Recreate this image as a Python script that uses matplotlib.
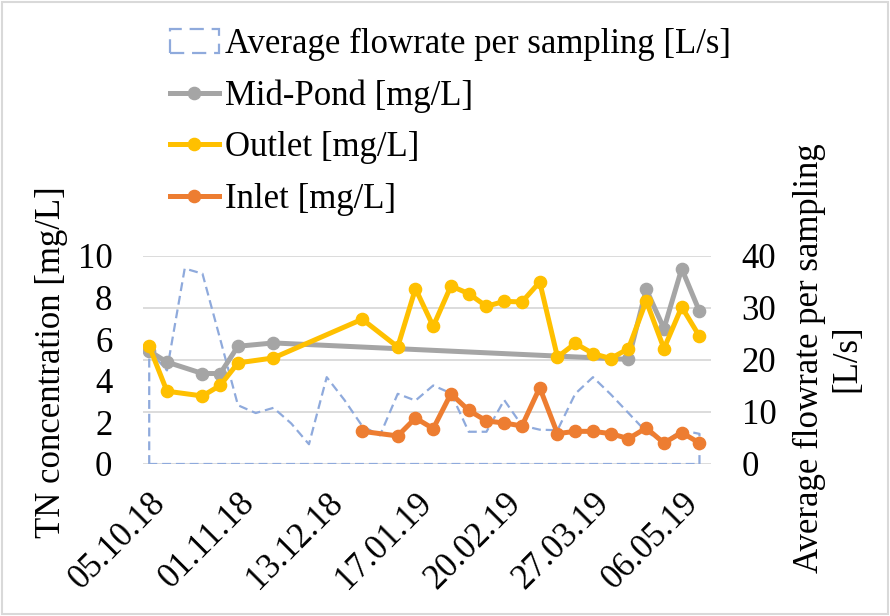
import numpy as np
import matplotlib.pyplot as plt

plt.rcParams['font.family'] = ['Liberation Serif', 'DejaVu Serif']

nan = np.nan

# 32 samplings on a category axis, every 5th one carries its date
n_samples = 32
label_step = 5
date_labels = ['05.10.18', '01.11.18', '13.12.18', '17.01.19',
               '20.02.19', '27.03.19', '06.05.19']

# average flowrate per sampling [L/s]
flow = [21.8, 18.0, 37.6, 36.6, 24.0, 11.3, 9.8, 10.8, 7.8, 3.8,
        16.7, 12.3, 7.3, 5.5, 13.5, 12.2, 15.1, 13.6, 6.2, 6.2,
        12.3, 7.4, 6.6, 6.5, 13.5, 16.7, 13.4, 9.8, 6.2, 4.2,
        6.5, 5.8]

# TN concentrations [mg/L], nan = not sampled
mid_pond = [5.43, 4.90, nan, 4.35, 4.35, 5.66, nan, 5.82, nan, nan,
            nan, nan, nan, nan, nan, nan, nan, nan, nan, nan,
            nan, nan, nan, nan, nan, nan, nan, 5.03, 8.40, 6.51,
            9.39, 7.34]
outlet = [5.66, 3.50, nan, 3.27, 3.78, 4.86, nan, 5.10, nan, nan,
          nan, nan, 6.96, nan, 5.63, 8.43, 6.62, 8.56, 8.19, 7.58,
          7.82, 7.79, 8.75, 5.14, 5.80, 5.31, 5.07, 5.55, 7.84, 5.55,
          7.55, 6.14]
inlet = [nan, nan, nan, nan, nan, nan, nan, nan, nan, nan,
         nan, nan, 1.57, nan, 1.35, 2.21, 1.70, 3.38, 2.58, 2.07,
         1.97, 1.83, 3.67, 1.46, 1.57, 1.57, 1.46, 1.22, 1.73, 1.01,
         1.51, 1.01]

x = np.arange(n_samples)
fs = 25

W, H = 890, 616
fig = plt.figure(figsize=(W / 100, H / 100), dpi=100)
ax = fig.add_axes([143 / W, 1 - 464 / H, 568 / W, 208 / H])
ax2 = ax.twinx()
# concentration lines go over the flowrate outline
ax.set_zorder(ax2.get_zorder() + 1)
ax.patch.set_visible(False)

area = ax2.fill_between(x, flow, 0, facecolor='none', edgecolor='#8FAADC',
                        linestyle=(0, (4, 2.2)), linewidth=1.6,
                        label='Average flowrate per sampling [L/s]')


def conc_line(vals, color, label, z):
    v = np.array(vals, dtype=float)
    ok = ~np.isnan(v)
    line, = ax.plot(x[ok], v[ok], color=color, lw=3.6, marker='o', ms=8.8,
                    label=label, zorder=z, solid_joinstyle='round')
    return line


l_mid = conc_line(mid_pond, '#A5A5A5', 'Mid-Pond [mg/L]', 3)
l_out = conc_line(outlet, '#FFC000', 'Outlet [mg/L]', 4)
l_in = conc_line(inlet, '#ED7D31', 'Inlet [mg/L]', 5)

ax.set_xlim(-0.35, n_samples - 0.35)
ax.set_ylim(0, 10)
ax.set_yticks(range(0, 11, 2))
ax2.set_ylim(0, 40)
ax2.set_yticks(range(0, 41, 10))
ax2.grid(axis='y', color='#D9D9D9', lw=1.3)
ax2.set_axisbelow(True)

ax.set_xticks(x[::label_step])
ax.set_xticklabels(date_labels, rotation=45, ha='right', va='top',
                   rotation_mode='anchor')

for a in (ax, ax2):
    for s in a.spines.values():
        s.set_visible(False)
    a.tick_params(length=0, labelsize=fs)
ax.tick_params(axis='y', pad=22)
ax2.tick_params(axis='y', pad=22)
ax.tick_params(axis='x', pad=16)

fig.text(52 / W, 1 - 362 / H, 'TN concentration [mg/L]', rotation=90,
         ha='center', va='center', fontsize=fs)
fig.text(828 / W, 1 - 358 / H, 'Average flowrate per sampling\n[L/s]',
         rotation=90, ha='center', va='center', multialignment='center',
         fontsize=fs)

fig.legend(handles=[area, l_mid, l_out, l_in], loc='upper left',
           bbox_to_anchor=(170 / W, 1 - 28 / H), frameon=False,
           fontsize=fs, handlelength=1.41, handletextpad=0.17,
           labelspacing=0.53, borderpad=0, borderaxespad=0)

# light outer border
fig.patches.append(plt.Rectangle((0.002, 0.003), 0.996, 0.994,
                                 transform=fig.transFigure, fill=False,
                                 edgecolor='#D9D9D9', lw=1.5))

fig.savefig('out.png', dpi=100)
